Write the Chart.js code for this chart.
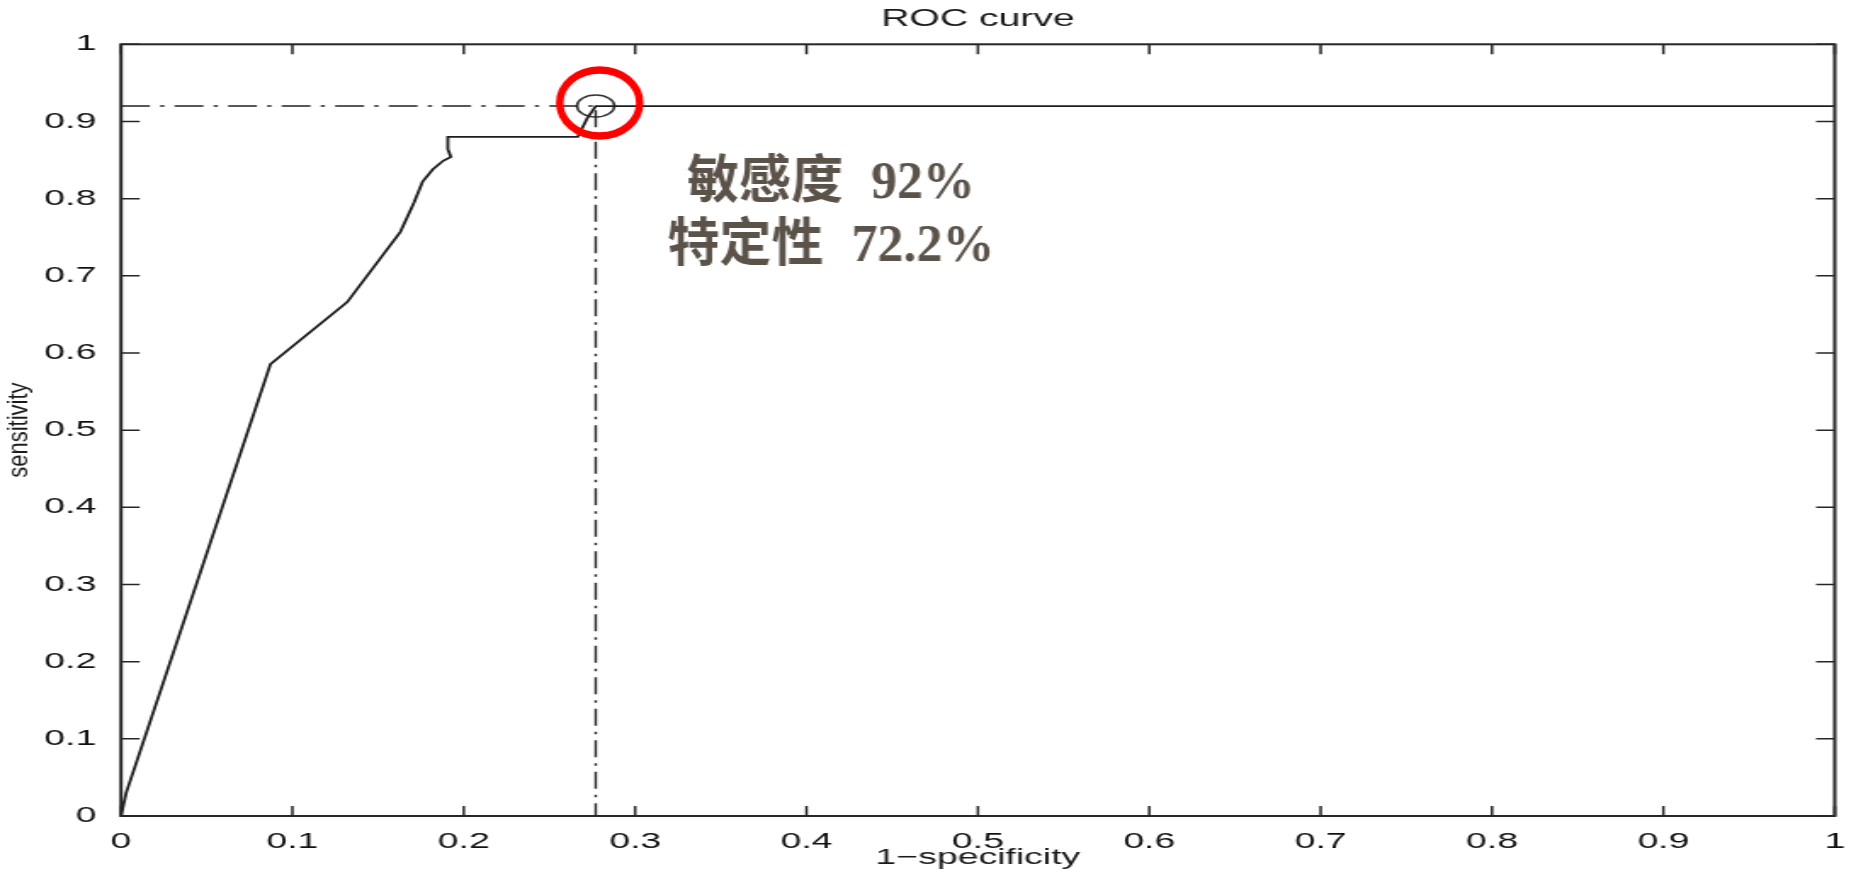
<!DOCTYPE html>
<html>
<head>
<meta charset="utf-8">
<script src="https://cdn.jsdelivr.net/npm/chart.js@4.4.1/dist/chart.umd.min.js"></script>
<style>
html, body { margin: 0; padding: 0; background: #fff; overflow: hidden; width: 1856px; height: 874px; }
#wrap { position: absolute; left: 0; top: 0; width: 1092px; height: 874px; transform: scaleX(1.6996337); transform-origin: 0 0; }
canvas { display: block; }
</style>
</head>
<body>
<div id="wrap"><canvas id="c" width="1092" height="874"></canvas></div>
<script>
// ---- data ----
const fpr = [0, 0.003, 0.0872, 0.132, 0.163, 0.171, 0.176, 0.182, 0.188, 0.1925, 0.1907, 0.1907, 0.2665, 0.272, 0.277, 1];
const tpr = [0, 0.03, 0.5855, 0.666, 0.757, 0.795, 0.822, 0.838, 0.849, 0.854, 0.864, 0.88, 0.88, 0.904, 0.92, 0.92];
const cutoffX = [0.277];
const cutoffY = [0.92];
const refLineX = [0, 0.277, 0.277];
const refLineY = [0.92, 0.92, 0];
const tickValues = [0, 0.1, 0.2, 0.3, 0.4, 0.5, 0.6, 0.7, 0.8, 0.9, 1];
const tickLabels = ['0', '0.1', '0.2', '0.3', '0.4', '0.5', '0.6', '0.7', '0.8', '0.9', '1'];
const chartTitle = 'ROC curve';
const xTitle = '1\u2212specificity';
const yTitle = 'sensitivity';
const annotationNames = ['敏感度', '特定性'];
const annotationValues = ['92%', '72.2%'];

// ---- rendering ----
const S = 1856 / 1092;
const SANS = '"Liberation Sans", Arial, Helvetica, sans-serif';
Chart.defaults.font.family = SANS;

const pts = (xs, ys) => xs.map((v, i) => ({ x: v, y: ys[i] }));

const fixTicks = (scale) => { scale.ticks = tickValues.map(v => ({ value: v })); };

const boxPlugin = {
  id: 'matlabBox',
  afterDraw(chart) {
    const { ctx, chartArea: a, scales: { x, y } } = chart;
    ctx.save();
    ctx.strokeStyle = '#262626';
    ctx.lineWidth = 2;
    ctx.strokeRect(a.left, a.top, a.right - a.left, a.bottom - a.top);
    ctx.lineWidth = 1.5;
    ctx.beginPath();
    tickValues.forEach(v => {
      const px = x.getPixelForValue(v);
      ctx.moveTo(px, a.bottom); ctx.lineTo(px, a.bottom - 10);
      ctx.moveTo(px, a.top); ctx.lineTo(px, a.top + 10);
      const py = y.getPixelForValue(v);
      ctx.moveTo(a.left, py); ctx.lineTo(a.left + 11, py);
      ctx.moveTo(a.right, py); ctx.lineTo(a.right - 11, py);
    });
    ctx.stroke();

    // drawing in un-stretched page pixels
    ctx.scale(1 / S, 1);

    // y axis label
    ctx.save();
    ctx.translate(20, (a.top + a.bottom) / 2);
    ctx.scale(1.3, 1);
    ctx.rotate(-Math.PI / 2);
    ctx.font = '22px ' + SANS;
    ctx.fillStyle = '#1a1a1a';
    ctx.textAlign = 'center';
    ctx.textBaseline = 'middle';
    ctx.fillText(yTitle, 0, 0);
    ctx.restore();

    // red highlight ellipse round the cut-off point
    const cx = x.getPixelForValue(cutoffX[0]) * S + 4;
    const cy = y.getPixelForValue(cutoffY[0]) - 3;
    ctx.beginPath();
    ctx.ellipse(cx, cy, 40, 33, 0, 0, Math.PI * 2);
    ctx.strokeStyle = '#ff0000';
    ctx.lineWidth = 7.5;
    ctx.stroke();

    // annotation text
    ctx.font = 'bold 52px "Liberation Serif", "Noto Sans CJK SC", serif';
    ctx.fillStyle = '#5b5249';
    ctx.textAlign = 'left';
    ctx.textBaseline = 'alphabetic';
    const gap = 28;
    const baselines = [198, 261];
    annotationNames.forEach((name, i) => {
      const w1 = ctx.measureText(name).width;
      const w2 = ctx.measureText(annotationValues[i]).width;
      const left = 831 - (w1 + gap + w2) / 2;
      ctx.fillText(name, left, baselines[i]);
      ctx.fillText(annotationValues[i], left + w1 + gap, baselines[i]);
    });
    ctx.restore();
  }
};

new Chart(document.getElementById('c'), {
  type: 'scatter',
  data: {
    datasets: [
      {
        data: pts(fpr, tpr),
        showLine: true,
        borderColor: '#1e1e1e',
        borderWidth: 1.8,
        pointRadius: 0,
        tension: 0
      },
      {
        data: pts(refLineX, refLineY),
        showLine: true,
        borderColor: '#222',
        borderWidth: 1.4,
        borderDash: [17, 6, 2.5, 6],
        pointRadius: 0,
        tension: 0
      },
      {
        data: pts(cutoffX, cutoffY),
        showLine: false,
        pointRadius: 11,
        pointStyle: 'circle',
        pointBorderColor: '#333',
        pointBackgroundColor: 'rgba(0,0,0,0)',
        pointBorderWidth: 1.5
      }
    ]
  },
  options: {
    responsive: false,
    devicePixelRatio: 1,
    animation: false,
    events: [],
    layout: { padding: { top: 0, left: 0, right: 11.18, bottom: 0 } },
    plugins: {
      legend: { display: false },
      tooltip: { enabled: false },
      title: {
        display: true,
        text: chartTitle,
        fullSize: false,
        color: '#1a1a1a',
        font: { family: SANS, size: 23, weight: 'normal' },
        padding: { top: 6.2, bottom: 10.5 }
      }
    },
    scales: {
      x: {
        type: 'linear',
        min: 0, max: 1,
        afterBuildTicks: fixTicks,
        afterFit(scale) { scale.height = 58; scale.paddingLeft = 0; scale.paddingRight = 0; },
        grid: { display: false },
        border: { display: false },
        ticks: {
          autoSkip: false, maxRotation: 0, minRotation: 0, padding: 5,
          color: '#111', font: { family: SANS, size: 22 },
          callback: (v, i) => tickLabels[i]
        },
        title: {
          display: true, text: xTitle, color: '#1a1a1a',
          font: { family: SANS, size: 22 },
          padding: { top: 0, bottom: 2.8 }
        }
      },
      y: {
        type: 'linear',
        min: 0, max: 1,
        afterBuildTicks: fixTicks,
        afterFit(scale) { scale.width = 71.19; scale.paddingTop = 0; scale.paddingBottom = 0; },
        grid: { display: false },
        border: { display: false },
        ticks: {
          autoSkip: false, padding: 6.5,
          color: '#111', font: { family: SANS, size: 22 },
          callback: (v, i) => tickLabels[i]
        }
      }
    }
  },
  plugins: [boxPlugin]
});
</script>
</body>
</html>
